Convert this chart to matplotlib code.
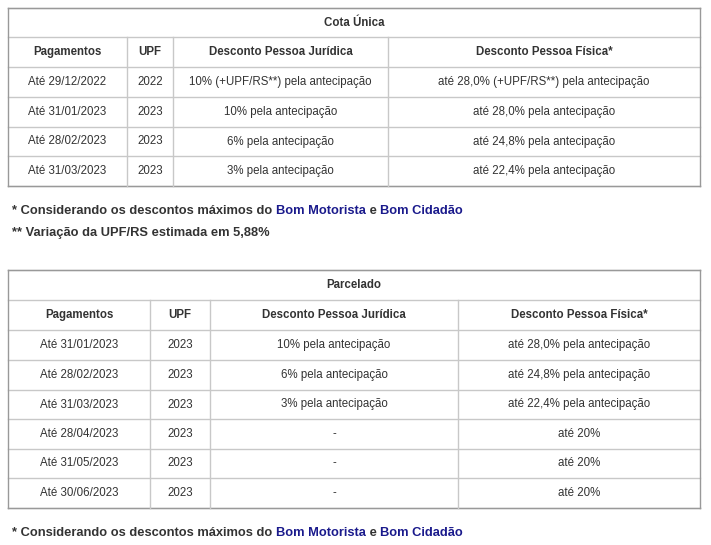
import matplotlib
matplotlib.use("Agg")
import matplotlib.pyplot as plt

plt.rcParams['font.family'] = ['Liberation Sans', 'DejaVu Sans']

t1_title = "Cota Única"
t1_header = ["Pagamentos", "UPF", "Desconto Pessoa Jurídica", "Desconto Pessoa Física*"]
t1_rows = [
    ["Até 29/12/2022", "2022", "10% (+UPF/RS**) pela antecipação", "até 28,0% (+UPF/RS**) pela antecipação"],
    ["Até 31/01/2023", "2023", "10% pela antecipação", "até 28,0% pela antecipação"],
    ["Até 28/02/2023", "2023", "6% pela antecipação", "até 24,8% pela antecipação"],
    ["Até 31/03/2023", "2023", "3% pela antecipação", "até 22,4% pela antecipação"],
]
t2_title = "Parcelado"
t2_header = t1_header
t2_rows = [
    ["Até 31/01/2023", "2023", "10% pela antecipação", "até 28,0% pela antecipação"],
    ["Até 28/02/2023", "2023", "6% pela antecipação", "até 24,8% pela antecipação"],
    ["Até 31/03/2023", "2023", "3% pela antecipação", "até 22,4% pela antecipação"],
    ["Até 28/04/2023", "2023", "-", "até 20%"],
    ["Até 31/05/2023", "2023", "-", "até 20%"],
    ["Até 30/06/2023", "2023", "-", "até 20%"],
]
note1 = [("* Considerando os descontos máximos do ", "#333333"), ("Bom Motorista", "#1a1a8c"),
         (" e ", "#333333"), ("Bom Cidadão", "#1a1a8c")]
note2 = [("** Variação da UPF/RS estimada em 5,88%", "#333333")]

fig = plt.figure(figsize=(7.11, 5.45), dpi=100)
ax = fig.add_axes([0, 0, 1, 1])
ax.set_xlim(0, 711); ax.set_ylim(545, 0); ax.axis('off')
LC = "#c8c8c8"; TC = "#333333"; FS = 8.3

def table(title, header, rows, cols, ys):
    x0, x1 = cols[0], cols[-1]
    ax.text((x0 + x1) / 2, (ys[0] + ys[1]) / 2, title, ha='center', va='center', fontsize=FS, fontweight='bold', color=TC)
    for y in ys:
        ax.plot([x0, x1], [y, y], color=LC, lw=1)
    ax.plot([x0, x0], [ys[0], ys[-1]], color="#999999", lw=1)
    ax.plot([x1, x1], [ys[0], ys[-1]], color="#999999", lw=1)
    ax.plot([x0, x1], [ys[0], ys[0]], color="#999999", lw=1)
    ax.plot([x0, x1], [ys[-1], ys[-1]], color="#999999", lw=1)
    for c in cols[1:-1]:
        ax.plot([c, c], [ys[1], ys[-1]], color=LC, lw=1)
    allrows = [header] + rows
    for r, row in enumerate(allrows):
        yc = (ys[r + 1] + ys[r + 2]) / 2
        for c, txt in enumerate(row):
            ax.text((cols[c] + cols[c + 1]) / 2, yc, txt, ha='center', va='center', fontsize=FS,
                    fontweight='bold' if r == 0 else 'normal', color=TC)

def note(parts, x, y):
    fig.canvas.draw()
    r = fig.canvas.get_renderer()
    inv = ax.transData.inverted()
    for txt, col in parts:
        t = ax.text(x, y, txt, ha='left', va='center', fontsize=9.3, fontweight='bold', color=col)
        bb = t.get_window_extent(r)
        x = inv.transform((bb.x1, bb.y0))[0]

table(t1_title, t1_header, t1_rows, [8, 127, 173, 388, 700], [8, 37, 67, 97, 127, 156, 186])
note(note1, 12, 211)
note(note2, 12, 233)
table(t2_title, t2_header, t2_rows, [8, 150, 210, 458, 700], [270, 300, 330, 360, 390, 419, 449, 478, 508])
note(note1, 12, 533)

fig.savefig("out.png", dpi=100)
